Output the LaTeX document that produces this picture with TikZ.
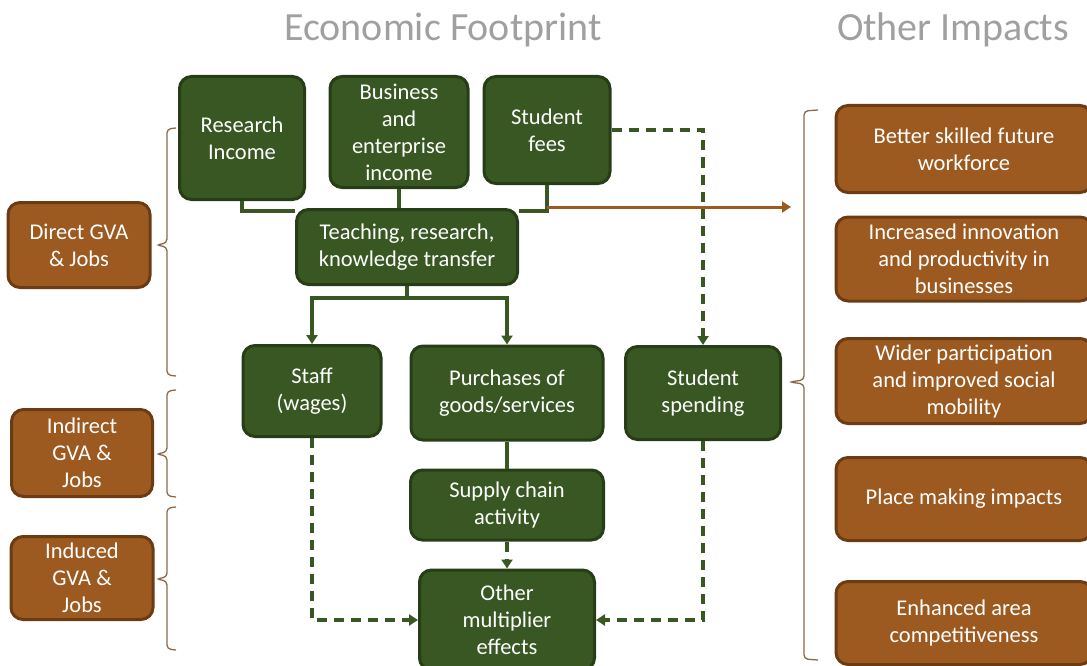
\documentclass[tikz,border=0pt]{standalone}
\usepackage{fontspec}
\setmainfont{Carlito}
\usetikzlibrary{arrows.meta}
\definecolor{boxgreen}{HTML}{385723}
\definecolor{edgegreen}{HTML}{263D17}
\definecolor{boxbrown}{HTML}{9C5A20}
\definecolor{edgebrown}{HTML}{6B3B14}
\definecolor{bracebrown}{HTML}{8B6A4B}
\definecolor{titlegray}{HTML}{A0A0A0}
\tikzstyle{greenbox} = [draw=edgegreen, fill=boxgreen, text=white, line width=3pt, rectangle, rounded corners=12pt, align=center, inner sep=0pt, font=\fontsize{22.5}{27}\selectfont]
\tikzstyle{brownbox} = [greenbox, draw=edgebrown, fill=boxbrown]
\tikzstyle{heading} = [text=titlegray, font=\fontsize{40}{44}\selectfont]
\tikzstyle{flow} = [draw=boxgreen, line width=3.2pt]
\tikzstyle{flowdash} = [flow, dash pattern=on 10pt off 7pt]
\tikzstyle{tip} = [-{Triangle[width=11pt,length=9pt]}]
\tikzstyle{brace} = [draw=bracebrown, line width=1.3pt, rounded corners=4pt]

\begin{document}
\begin{tikzpicture}[x=1pt, y=-1pt]
\useasboundingbox (0,0) rectangle (1087,666);
\node[heading] (econ) at (443,30) {Economic Footprint};
\node[heading] (impacts) at (953,30) {Other Impacts};

\node[greenbox, minimum width=125pt, minimum height=123pt] (research) at (242,138) {Research\\Income};
\node[greenbox, minimum width=138pt, minimum height=111pt] (biz) at (399,132) {Business\\and\\enterprise\\income};
\node[greenbox, minimum width=126pt, minimum height=107pt] (fees) at (547,130) {Student\\fees};
\node[greenbox, minimum width=221pt, minimum height=75pt] (teach) at (407,247) {Teaching, research,\\knowledge transfer};
\node[greenbox, minimum width=138pt, minimum height=91pt] (staff) at (312,391) {Staff\\(wages)};
\node[greenbox, minimum width=192pt, minimum height=94pt] (buy) at (507,393) {Purchases of\\goods/services};
\node[greenbox, minimum width=155pt, minimum height=93pt] (spend) at (703,393) {Student\\spending};
\node[greenbox, minimum width=193pt, minimum height=70pt] (supply) at (507,505) {Supply chain\\activity};
\node[greenbox, minimum width=175pt, minimum height=100pt] (other) at (507,620) {Other\\multiplier\\effects};

\node[brownbox, minimum width=142pt, minimum height=85pt] (direct) at (79,245) {Direct GVA\\\& Jobs};
\node[brownbox, minimum width=141pt, minimum height=87pt] (indirect) at (82,453) {Indirect\\GVA \&\\Jobs};
\node[brownbox, minimum width=142pt, minimum height=83pt] (induced) at (82,578) {Induced\\GVA \&\\Jobs};

\node[brownbox, minimum width=256pt, minimum height=87pt] (skills) at (964,149) {Better skilled future\\workforce};
\node[brownbox, minimum width=256pt, minimum height=84pt] (innov) at (964,259) {Increased innovation\\and productivity in\\businesses};
\node[brownbox, minimum width=256pt, minimum height=85pt] (mobility) at (964,381) {Wider participation\\and improved social\\mobility};
\node[brownbox, minimum width=256pt, minimum height=83pt] (place) at (964,499) {Place making impacts};
\node[brownbox, minimum width=256pt, minimum height=83pt] (compete) at (964,623) {Enhanced area\\competitiveness};

\draw[flow] (research.south) |- ([yshift=-3pt]teach.north west);
\draw[flow] (biz.south) -- (biz.south |- teach.north);
\draw[flow] (fees.south) |- ([yshift=-3pt]teach.north east);
\coordinate (split) at (547,207);
\coordinate (reach) at (791,207);
\draw[tip, draw=boxbrown, line width=3pt] (split) -- (reach);
\draw[flowdash, tip] (fees.east) -| (spend.north);

\coordinate (hub) at ([yshift=-12pt]teach.south);
\draw[flow] (teach.south) -- (hub);
\draw[flow, tip] (hub) -| (staff.north);
\draw[flow, tip] (hub) -| (buy.north);
\draw[flow] (buy.south) -- (supply.north);
\draw[flowdash, tip] (supply.south) -- (other.north);
\draw[flowdash, tip] (staff.south) |- (other.west);
\draw[flowdash, tip] (spend.south) |- (other.east);

\draw[brace] (176,128) -- (167,129) -- (167,243) -- (156,245) -- (167,247) -- (167,375) -- (176,376);
\draw[brace] (176,390) -- (167,391) -- (167,452) -- (156,454) -- (167,456) -- (167,496) -- (176,497);
\draw[brace] (176,507) -- (167,508) -- (167,577) -- (156,579) -- (167,581) -- (167,649) -- (176,650);
\draw[brace] (818,110) -- (804,111) -- (804,380) -- (789,382) -- (804,384) -- (804,659) -- (818,660);
\end{tikzpicture}
\end{document}
